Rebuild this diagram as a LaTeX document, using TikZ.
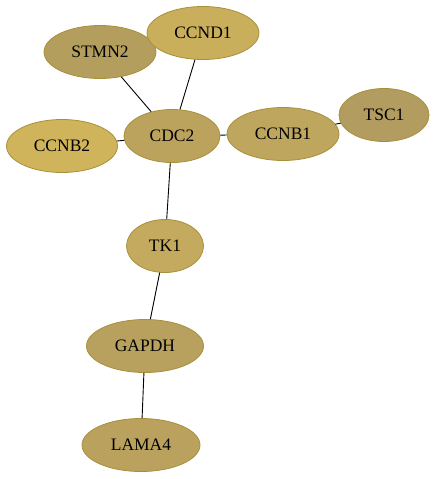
\documentclass[tikz,border=0pt]{standalone}
\usepackage{fontspec}
\setmainfont{Liberation Serif}
\usetikzlibrary{shapes.geometric,
positioning}
\definecolor{rimgold}{HTML}{A8903A}
\definecolor{stmncol}{HTML}{B39E5E}
\definecolor{ccndcol}{HTML}{C9AE5C}
\definecolor{cdccol}{HTML}{BBA35E}
\definecolor{ccnbtwocol}{HTML}{D0B45C}
\definecolor{ccnbonecol}{HTML}{BEA65E}
\definecolor{tsccol}{HTML}{B29C5F}
\definecolor{tkcol}{HTML}{C4AA5E}
\definecolor{gapdhcol}{HTML}{B8A15E}
\definecolor{lamacol}{HTML}{BAA25E}

\begin{document}
\begin{tikzpicture} [x=1pt, y=-1pt,
    gene/.style={ellipse, draw=rimgold, line width=.8pt,
        inner sep = 0pt, minimum height = 53pt,
        font=\fontsize{17.5}{20}\selectfont},
    link/.style={draw=black, line width=.9pt}
  ]

  \useasboundingbox (0, 0) rectangle (436, 479);

  % top cluster
  \node [gene, minimum width = 112pt, fill = stmncol] (stmn2) at (100, 52) {STMN2};
  \node [gene, minimum width = 112pt, fill = ccndcol] (ccnd1) at (203, 33) {CCND1};
  \node [gene, minimum width = 96pt, fill = cdccol] (cdc2) at (172, 136) {CDC2};
  \node [gene, minimum width = 111pt, fill = ccnbtwocol] (ccnb2) at (62, 146) {CCNB2};
  \node [gene, minimum width = 112pt, fill = ccnbonecol] (ccnb1) at (283, 134) {CCNB1};
  \node [gene, minimum width = 90pt, fill = tsccol] (tsc1) at (384, 115) {TSC1};

  % chain below
  \node [gene, minimum width = 77pt, fill = tkcol] (tk1) at (165, 246) {TK1};
  \node [gene, minimum width = 117pt, fill = gapdhcol] (gapdh) at (145, 346) {GAPDH};
  \node [gene, minimum width = 118pt, fill = lamacol] (lama4) at (141, 445) {LAMA4};

  \draw [link] (stmn2) -- (cdc2);
  \draw [link] (ccnd1) -- (cdc2);
  \draw [link] (ccnb2) -- (cdc2);
  \draw [link] (cdc2) -- (ccnb1);
  \draw [link] (ccnb1) -- (tsc1);
  \draw [link] (cdc2) -- (tk1);
  \draw [link] (tk1) -- (gapdh);
  \draw [link] (gapdh) -- (lama4);

\end{tikzpicture}
\end{document}
